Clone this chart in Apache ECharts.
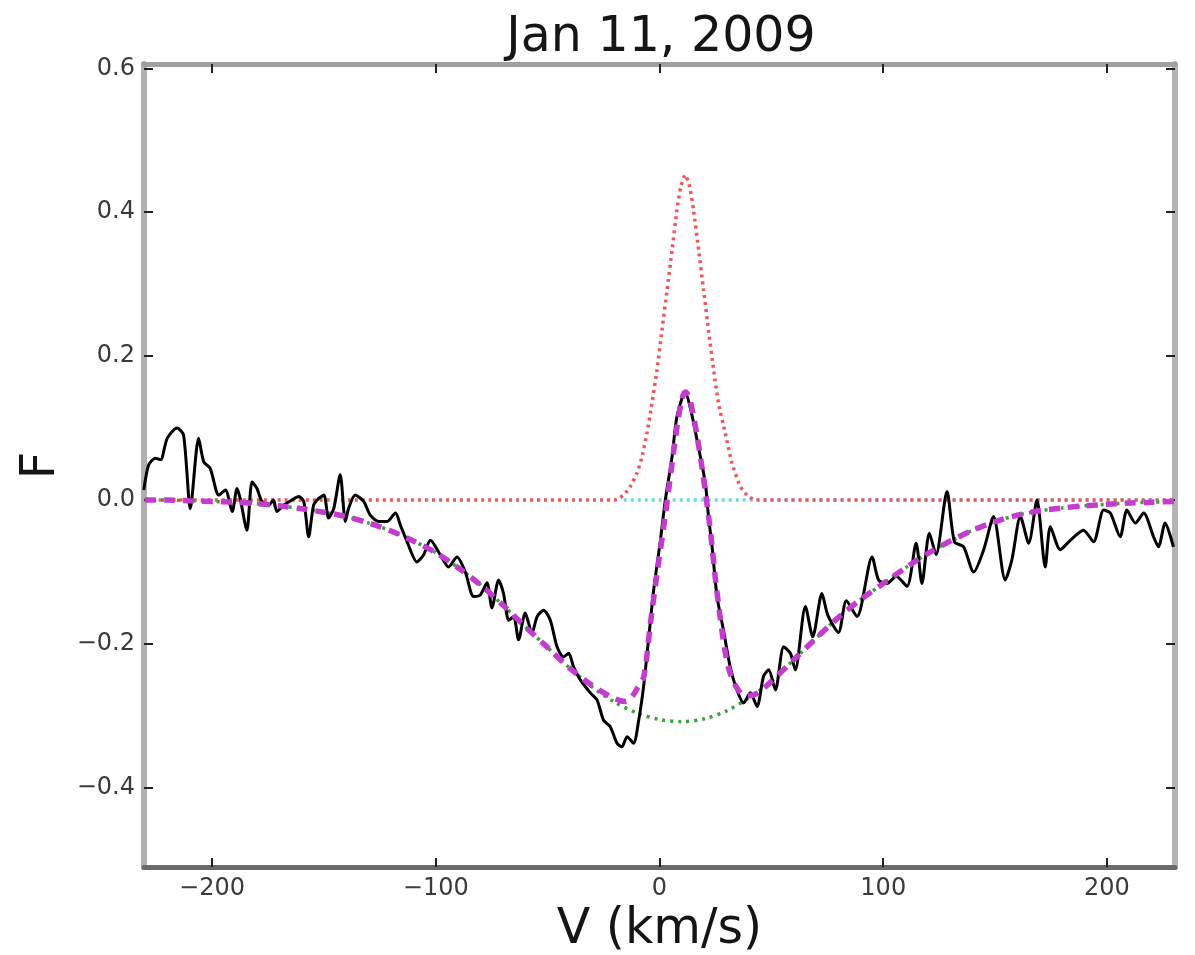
<!DOCTYPE html>
<html>
<head>
<meta charset="utf-8">
<script src="https://cdn.jsdelivr.net/npm/echarts@6/dist/echarts.min.js"></script>
<style>html,body{margin:0;padding:0;background:#fff;}#chart{width:1195px;height:955px;}</style>
</head>
<body>
<div id="chart"></div>
<script>
// Observed profile (black)
var obsV = [-230.5,-228.3,-225.3,-223.0,-220.0,-215.6,-212.7,-209.7,-206.0,-203.7,-200.8,-197.0,-194.0,-191.0,-188.8,-187.4,-184.4,-182.1,-179.9,-177.7,-174.7,-172.5,-171.0,-168.0,-164.3,-161.3,-159.0,-156.8,-154.6,-152.4,-150.0,-147.9,-145.6,-142.7,-140.4,-139.0,-136.0,-132.2,-129.3,-125.5,-121.8,-118.0,-115.8,-112.8,-108.4,-105.4,-102.4,-98.0,-94.3,-90.5,-86.8,-83.1,-80.1,-77.1,-74.9,-71.9,-69.7,-67.4,-65.2,-63.0,-60.0,-57.0,-54.7,-51.8,-48.8,-45.8,-42.9,-40.6,-38.4,-35.4,-30.9,-27.9,-25.0,-22.0,-19.0,-16.8,-14.5,-11.6,-9.3,-7.1,-4.9,-2.6,0.4,2.6,5.6,7.8,11.5,14.0,16.8,20.5,21.9,23.5,25.7,28.6,31.6,34.6,37.6,40.6,43.6,46.5,48.8,51.8,55.5,58.5,60.7,65.2,68.5,72.6,75.2,80.0,83.5,88.3,95.0,97.9,101.7,105.8,110.6,114.7,117.3,120.6,123.6,128.5,131.8,135.9,140.4,144.9,149.3,154.5,157.5,161.3,165.0,168.7,172.4,174.7,179.1,183.6,189.5,194.0,198.5,201.5,205.9,208.9,212.7,216.4,220.8,223.0,226.0,229.7];
var obsF = [0.014,0.049,0.058,0.056,0.086,0.100,0.090,-0.012,0.086,0.053,0.044,0.007,0.014,-0.016,0.016,0.002,-0.042,0.025,0.016,-0.002,-0.007,0.000,-0.016,-0.007,0.000,0.005,-0.002,-0.051,-0.007,0.002,0.007,-0.025,-0.012,0.035,-0.030,-0.012,0.007,-0.002,-0.021,-0.030,-0.030,-0.018,-0.035,-0.058,-0.086,-0.076,-0.056,-0.076,-0.093,-0.079,-0.100,-0.134,-0.132,-0.115,-0.150,-0.111,-0.130,-0.167,-0.162,-0.194,-0.157,-0.185,-0.162,-0.153,-0.167,-0.204,-0.218,-0.213,-0.232,-0.250,-0.268,-0.278,-0.306,-0.315,-0.338,-0.343,-0.329,-0.338,-0.306,-0.259,-0.194,-0.125,-0.056,0.000,0.060,0.116,0.150,0.125,0.083,0.023,-0.023,-0.065,-0.134,-0.181,-0.232,-0.264,-0.282,-0.268,-0.287,-0.245,-0.236,-0.264,-0.204,-0.213,-0.236,-0.148,-0.190,-0.130,-0.160,-0.184,-0.140,-0.162,-0.079,-0.111,-0.116,-0.106,-0.120,-0.060,-0.116,-0.046,-0.076,0.012,-0.058,-0.065,-0.100,-0.069,-0.023,-0.111,-0.083,-0.023,-0.060,0.000,-0.093,-0.037,-0.069,-0.056,-0.042,-0.058,-0.014,-0.018,-0.051,-0.014,-0.032,-0.018,-0.051,-0.065,-0.032,-0.065];

// Broad absorption component (green dotted)
var absV = [-230,-220,-210,-200,-190,-180,-170,-160,-150,-140,-130,-120,-110,-100,-90,-80,-70,-60,-50,-40,-30,-20,-10,0,10,20,30,40,50,60,70,80,90,100,110,120,130,140,150,160,170,180,190,200,210,220,230];
var absF = [0.000,0.000,-0.001,-0.002,-0.003,-0.005,-0.008,-0.012,-0.017,-0.023,-0.032,-0.043,-0.057,-0.073,-0.094,-0.118,-0.146,-0.176,-0.205,-0.234,-0.260,-0.281,-0.296,-0.305,-0.308,-0.304,-0.293,-0.275,-0.252,-0.222,-0.192,-0.163,-0.138,-0.116,-0.094,-0.074,-0.057,-0.042,-0.030,-0.021,-0.015,-0.011,-0.008,-0.006,-0.004,-0.003,-0.002];

// Narrow emission component (red dotted)
var emV = [-230,-20,-16,-13,-10,-8,-5.6,-3.4,-1.1,1.1,3.4,5.6,7.8,9.5,11.5,13.5,15.2,17.5,19.7,21.9,24.2,26.4,29.4,32.4,36.1,39.1,43,230];
var emF = [0,0,0.007,0.019,0.038,0.058,0.093,0.134,0.181,0.236,0.292,0.347,0.403,0.435,0.452,0.435,0.403,0.347,0.292,0.236,0.181,0.134,0.093,0.051,0.019,0.007,0,0];

// Zero component (cyan dotted)
var zeroV = [-16, 230];
var zeroF = [0, 0];

// Total fit (magenta dashed)
var fitV = [-230,-220,-210,-200,-190,-180,-170,-160,-150,-140,-130,-120,-110,-100,-90,-80,-70,-60,-50,-40,-30,-20,-15,-12,-10,-7,-4,-1,2,4,6,8,10,11.5,13,15,17,19,21,23,25,27,29,31,34,37,40,44,50,60,70,80,90,100,110,120,130,140,150,160,170,180,190,200,210,220,230];
var fitF = [0.000,0.000,-0.001,-0.002,-0.003,-0.005,-0.008,-0.012,-0.017,-0.023,-0.032,-0.043,-0.057,-0.073,-0.094,-0.118,-0.146,-0.176,-0.205,-0.234,-0.258,-0.276,-0.280,-0.272,-0.262,-0.245,-0.170,-0.100,-0.035,0.012,0.060,0.105,0.140,0.150,0.145,0.120,0.085,0.045,0.000,-0.050,-0.110,-0.160,-0.205,-0.235,-0.258,-0.270,-0.272,-0.268,-0.252,-0.222,-0.192,-0.163,-0.138,-0.116,-0.094,-0.074,-0.057,-0.042,-0.030,-0.021,-0.015,-0.011,-0.008,-0.006,-0.004,-0.003,-0.002];

var xTicks = [-200,-100,0,100,200];
var yTicks = [-0.4,-0.2,0.0,0.2,0.4,0.6];

function pairs(xs, ys){ return xs.map(function(x,i){ return [x, ys[i]]; }); }
function fmtY(v){ var s = Math.abs(v).toFixed(1); return (v < -1e-9 ? '\u2212' : '') + s; }
function fmtX(v){ var s = String(Math.abs(Math.round(v))); return (v < 0 ? '\u2212' : '') + s; }

var FONT = 'DejaVu Sans';
var chart = echarts.init(document.getElementById('chart'), null, {renderer:'canvas'});
var tickStyle = {show:true, inside:true, length:9, lineStyle:{color:'#222', width:2}};
chart.setOption({
  animation:false,
  backgroundColor:'#fff',
  textStyle:{fontFamily:FONT},
  title:{text:'Jan 11, 2009', left:656, textAlign:'center', top:9,
    textStyle:{fontFamily:FONT, fontSize:49, fontWeight:'normal', color:'#151515'}},
  grid:{left:144, right:20, top:64, bottom:88, containLabel:false, outerBoundsMode:'none'},
  xAxis:[{
    type:'value', min:-230.4, max:230.4, position:'bottom',
    name:'V (km/s)', nameLocation:'middle', nameGap:34,
    nameTextStyle:{fontFamily:FONT, fontSize:49, color:'#151515'},
    axisLine:{show:true, onZero:false, lineStyle:{color:'#6a6a6a', width:5}},
    axisTick:Object.assign({customValues:xTicks}, tickStyle),
    axisLabel:{customValues:xTicks, formatter:fmtX, fontFamily:FONT, fontSize:24, color:'#3a3a3a', margin:10},
    splitLine:{show:false}
  },{
    type:'value', min:-230.4, max:230.4, position:'top',
    axisLine:{show:true, onZero:false, lineStyle:{color:'#a0a0a0', width:5}},
    axisTick:Object.assign({customValues:xTicks}, tickStyle),
    axisLabel:{show:false}, splitLine:{show:false}
  }],
  yAxis:[{
    type:'value', min:-0.51, max:0.606, position:'left',
    name:'F', nameLocation:'middle', nameGap:74, nameRotate:90,
    nameTextStyle:{fontFamily:FONT, fontSize:48, color:'#151515'},
    axisLine:{show:true, onZero:false, lineStyle:{color:'#b0b0b0', width:6}},
    axisTick:Object.assign({customValues:yTicks}, tickStyle),
    axisLabel:{customValues:yTicks, formatter:fmtY, fontFamily:FONT, fontSize:24, color:'#3a3a3a', margin:9},
    splitLine:{show:false}
  },{
    type:'value', min:-0.51, max:0.606, position:'right',
    axisLine:{show:true, onZero:false, lineStyle:{color:'#b4b4b4', width:6}},
    axisTick:Object.assign({customValues:yTicks}, tickStyle),
    axisLabel:{show:false}, splitLine:{show:false}
  }],
  series:[
    {type:'line', name:'zero', data:pairs(zeroV, zeroF), showSymbol:false, z:1,
      lineStyle:{color:'#66dede', width:3.5, type:[3,4]}},
    {type:'line', name:'emission', data:pairs(emV, emF), showSymbol:false, z:2, smooth:0.2,
      lineStyle:{color:'#f05858', width:3.5, type:[3,4]}},
    {type:'line', name:'absorption', data:pairs(absV, absF), showSymbol:false, z:3, smooth:0.3,
      lineStyle:{color:'#3aa03a', width:3.5, type:[3,5]}},
    {type:'line', name:'observed', data:pairs(obsV, obsF), showSymbol:false, z:4, smooth:0.25,
      lineStyle:{color:'#000', width:3}},
    {type:'line', name:'fit', data:pairs(fitV, fitF), showSymbol:false, z:5, smooth:0.3,
      lineStyle:{color:'#c63ad2', width:5.5, type:[11,8]}}
  ]
});
</script>
</body>
</html>
